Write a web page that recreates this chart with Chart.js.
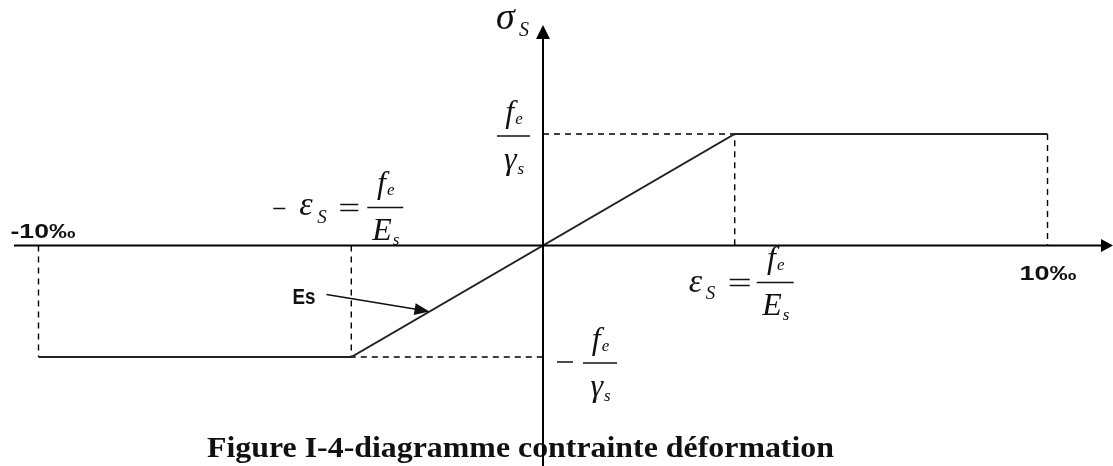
<!DOCTYPE html>
<html>
<head>
<meta charset="utf-8">
<script src="https://cdn.jsdelivr.net/npm/chart.js@4.4.1/dist/chart.umd.min.js"></script>
<style>
  html, body { margin: 0; padding: 0; background: #fff; }
  canvas { display: block; }
</style>
</head>
<body>
<canvas id="c" width="1113" height="466"></canvas>
<script>
// Steel stress-strain diagram: strain in ‰, stress normalised to fe/γs
const strainLimits = [-10, 10];
const yieldStrain = 3.8;
const yieldStress = 1;
const curveStrain = [-10, -3.8, 3.8, 10];
const curveStress = [-1, -1, 1, 1];
const tickLabels = ['-10‰', '10‰'];
const modulusMarkStrain = -2.25;   // where the "Es" arrow meets the elastic branch
const titleText = 'Figure I-4-diagramme contrainte déformation';

const INK = '#111';
const MATH = '"Liberation Serif", "DejaVu Serif", serif';
const SANS = '"Liberation Sans", Arial, sans-serif';

const pts = (xs, ys) => xs.map((x, i) => ({ x, y: ys[i] }));

const dashed = data => ({
  data, showLine: true, pointRadius: 0, borderColor: '#000', borderWidth: 1.4,
  borderDash: [6, 5], fill: false, tension: 0
});

const datasets = [
  {
    label: 'σs(εs)',
    data: pts(curveStrain, curveStress),
    showLine: true, pointRadius: 0, borderColor: '#222', borderWidth: 1.9,
    fill: false, tension: 0
  },
  dashed([{ x: 0, y: yieldStress }, { x: yieldStrain, y: yieldStress }, { x: yieldStrain, y: 0 }]),
  dashed([{ x: strainLimits[1], y: yieldStress }, { x: strainLimits[1], y: 0 }]),
  dashed([{ x: strainLimits[0], y: 0 }, { x: strainLimits[0], y: -yieldStress }]),
  dashed([{ x: -yieldStrain, y: 0 }, { x: -yieldStrain, y: -yieldStress }, { x: 0, y: -yieldStress }])
];

// text drawn with a fixed width (horizontal squeeze/stretch)
function fitText(ctx, txt, x, y, width, font) {
  ctx.save();
  ctx.font = font;
  const w = ctx.measureText(txt).width;
  ctx.translate(x, y);
  ctx.scale(width / w, 1);
  ctx.fillText(txt, 0, 0);
  ctx.restore();
}

function it(ctx, txt, x, y, size) {
  ctx.font = `italic ${size}px ${MATH}`;
  ctx.fillText(txt, x, y);
  return ctx.measureText(txt).width;
}

function hline(ctx, x1, x2, y, w) {
  ctx.beginPath();
  ctx.lineWidth = w || 1.4;
  ctx.moveTo(x1, y);
  ctx.lineTo(x2, y);
  ctx.stroke();
}

// symbol with subscript, centred on cx
function subSym(ctx, main, sub, cx, base, size, subSize, subDrop) {
  ctx.font = `italic ${size}px ${MATH}`;
  const w1 = ctx.measureText(main).width;
  ctx.font = `italic ${subSize}px ${MATH}`;
  const w2 = ctx.measureText(sub).width;
  const x0 = cx - (w1 + w2) / 2;
  it(ctx, main, x0, base, size);
  it(ctx, sub, x0 + w1 + 1, base + subDrop, subSize);
}

// fraction num_sub / den_sub with the bar at barY
function frac(ctx, x1, x2, barY, num, numSub, den, denSub) {
  hline(ctx, x1, x2, barY, 1.5);
  const cx = (x1 + x2) / 2;
  subSym(ctx, num, numSub, cx, barY - 14, 32, 17, 2);
  subSym(ctx, den, denSub, cx, barY + 33, 32, 17, 5);
}

function arrowHead(ctx, tx, ty, ang, len, half) {
  ctx.save();
  ctx.translate(tx, ty);
  ctx.rotate(ang);
  ctx.beginPath();
  ctx.moveTo(0, 0);
  ctx.lineTo(-len, -half);
  ctx.lineTo(-len, half);
  ctx.closePath();
  ctx.fill();
  ctx.restore();
}

const decor = {
  id: 'decor',
  beforeDraw(chart) {
    const { ctx, width, height } = chart;
    ctx.save();
    ctx.fillStyle = '#fff';
    ctx.fillRect(0, 0, width, height);
    ctx.restore();
  },
  afterDatasetsDraw(chart) {
    const { ctx } = chart;
    const sx = chart.scales.x, sy = chart.scales.y;
    const X = v => sx.getPixelForValue(v);
    const Y = v => sy.getPixelForValue(v);
    const ox = X(0), oy = Y(0);
    const py = Y(yieldStress), ny = Y(-yieldStress);
    const ex = X(yieldStrain), nx = X(-yieldStrain);

    ctx.save();
    ctx.strokeStyle = '#000';
    ctx.fillStyle = '#000';

    // axes with arrows
    ctx.lineWidth = 2;
    ctx.beginPath();
    ctx.moveTo(14, oy);
    ctx.lineTo(1104, oy);
    ctx.moveTo(ox, chart.height);
    ctx.lineTo(ox, 38);
    ctx.stroke();
    arrowHead(ctx, 1113, oy, 0, 12, 6.5);
    arrowHead(ctx, ox, 25, -Math.PI / 2, 14, 7);

    ctx.fillStyle = INK;
    ctx.strokeStyle = INK;
    ctx.textBaseline = 'alphabetic';

    // σS
    it(ctx, 'σ', ox - 47, 29, 38);
    it(ctx, 'S', ox - 24, 36, 20);

    // fe / γs  (upper yield stress)
    frac(ctx, ox - 46, ox - 13, py + 2, 'f', 'e', 'γ', 's');

    // − fe / γs  (lower yield stress)
    hline(ctx, ox + 14, ox + 30, ny + 5, 1.5);
    frac(ctx, ox + 40, ox + 74, ny + 6, 'f', 'e', 'γ', 's');

    // − εS = fe / Es
    hline(ctx, nx - 78, nx - 66, oy - 37, 1.5);
    it(ctx, 'ε', nx - 52, oy - 30, 34);
    it(ctx, 'S', nx - 34, oy - 22, 19);
    hline(ctx, nx - 11, nx + 7, oy - 41, 1.5);
    hline(ctx, nx - 11, nx + 7, oy - 35, 1.5);
    frac(ctx, nx + 16, nx + 52, oy - 38, 'f', 'e', 'E', 's');

    // εS = fe / Es
    it(ctx, 'ε', ex - 46, oy + 47, 34);
    it(ctx, 'S', ex - 29, oy + 54, 19);
    hline(ctx, ex - 5, ex + 15, oy + 34, 1.5);
    hline(ctx, ex - 5, ex + 15, oy + 40, 1.5);
    frac(ctx, ex + 22, ex + 59, oy + 37, 'f', 'e', 'E', 's');

    // strain limits
    fitText(ctx, tickLabels[0], X(strainLimits[0]) - 28, oy - 7, 65, `bold 20px ${SANS}`);
    fitText(ctx, tickLabels[1], X(strainLimits[1]) - 28, oy + 35, 57, `bold 20px ${SANS}`);

    // Es arrow onto the elastic branch
    const tx = X(modulusMarkStrain);
    const ty = Y(modulusMarkStrain * yieldStress / yieldStrain);
    const tailX = tx - 103, tailY = ty - 17;
    const ang = Math.atan2(ty - tailY, tx - tailX);
    ctx.lineWidth = 1.6;
    ctx.beginPath();
    ctx.moveTo(tailX, tailY);
    ctx.lineTo(tx - 12 * Math.cos(ang), ty - 12 * Math.sin(ang));
    ctx.stroke();
    arrowHead(ctx, tx, ty, ang, 15, 6);
    fitText(ctx, 'Es', tailX - 34, tailY + 9, 23, `bold 22px ${SANS}`);

    ctx.restore();
  },
  afterDraw(chart) {
    const { ctx } = chart;
    const ox = chart.scales.x.getPixelForValue(0);
    ctx.save();
    ctx.fillStyle = '#111';
    fitText(ctx, titleText, 207, 457, 627, `bold 29px ${MATH}`);
    // the ordinate axis runs through the caption
    ctx.strokeStyle = '#000';
    ctx.lineWidth = 2;
    ctx.beginPath();
    ctx.moveTo(ox, 420);
    ctx.lineTo(ox, chart.height);
    ctx.stroke();
    ctx.restore();
  }
};

new Chart(document.getElementById('c'), {
  type: 'scatter',
  data: { datasets },
  options: {
    responsive: false,
    animation: false,
    layout: { padding: 0 },
    plugins: { legend: { display: false }, tooltip: { enabled: false }, title: { display: false } },
    scales: {
      x: { type: 'linear', min: -10.763, max: 11.298, display: false },
      y: { type: 'linear', min: -1.9776, max: 2.2018, display: false }
    }
  },
  plugins: [decor]
});
</script>
</body>
</html>
